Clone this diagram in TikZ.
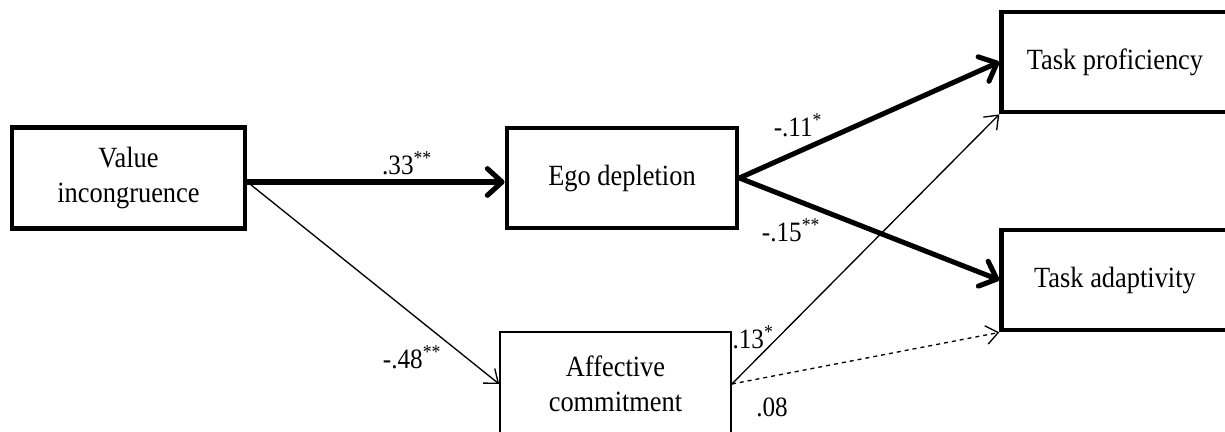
\documentclass[tikz,border=0pt]{standalone}
\usepackage{fontspec}
\setmainfont[FakeStretch=0.9]{Liberation Serif}
\usetikzlibrary{arrows.meta}

\tikzset{
  varbox/.style={draw, line width=3.6pt, align=center, inner sep=0pt, font=\fontsize{22}{26}\selectfont},
  thinbox/.style={draw, line width=1.3pt, align=center, inner sep=0pt, font=\fontsize{22}{26}\selectfont},
  strongpath/.style={line width=3.8pt, line cap=round, -{Straight Barb[length=11pt,width=20pt,line width=3.8pt,round]}},
  weakpath/.style={line width=1pt, -{Straight Barb[length=9pt,width=14pt,line width=1pt]}},
  coef/.style={font=\fontsize{21}{24}\selectfont, inner sep=0pt}
}

\begin{document}
\begin{tikzpicture}[x=0.75pt,y=0.75pt,yscale=-1,xscale=1]
\useasboundingbox (0,0) rectangle (1225,432);

% Boxes
\node [varbox, minimum width=174.75pt, minimum height=75.75pt] (vi) at (128.5,178) {Value\\incongruence};
\node [varbox, minimum width=172.5pt, minimum height=75pt] (ed) at (622,178) {Ego depletion};
\node [varbox, minimum width=170pt, minimum height=75pt] (tp) at (1115,62) {Task proficiency};
\node [varbox, minimum width=170pt, minimum height=75pt] (ta) at (1115,280) {Task adaptivity};
\node [thinbox, minimum width=173.25pt, minimum height=78pt] (ac) at (615.5,384) {Affective\\commitment};

% Paths
\draw [strongpath] ([yshift=3pt]vi.east) -- ([yshift=3pt]ed.west);
\draw [weakpath] ([yshift=3pt]vi.east) -- (ac.west);
\draw [strongpath] (ed.east) -- (tp.west);
\draw [strongpath] (ed.east) -- (ta.west);
\draw [weakpath] (ac.east) -- (tp.south west);
\draw [weakpath, dashed] (ac.east) -- (ta.south west);

% Coefficients
\node [coef] (c1) at (407,163) {.33\textsuperscript{**}};
\node [coef] (c2) at (412,357) {-.48\textsuperscript{**}};
\node [coef] (c3) at (798,125) {-.11\textsuperscript{*}};
\node [coef] (c4) at (791,230) {-.15\textsuperscript{**}};
\node [coef] (c5) at (753,337) {.13\textsuperscript{*}};
\node [coef] (c6) at (772,407) {.08};

\end{tikzpicture}
\end{document}
